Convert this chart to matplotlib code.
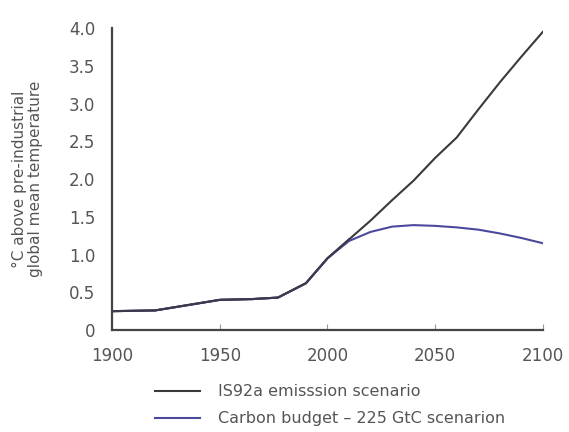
import matplotlib
matplotlib.use("Agg")
import matplotlib.pyplot as plt

# ── Data ───────────────────────────────────────────────────────────────────────
years_is92a = [1900, 1920, 1935, 1950, 1965, 1977, 1990, 2000, 2010, 2020,
               2030, 2040, 2050, 2060, 2070, 2080, 2090, 2100]
temp_is92a  = [0.25, 0.26, 0.33, 0.40, 0.41, 0.43, 0.62, 0.95, 1.20, 1.45,
               1.72, 1.98, 2.28, 2.55, 2.92, 3.28, 3.62, 3.95]

years_budget = [1900, 1920, 1935, 1950, 1965, 1977, 1990, 2000, 2010, 2020,
                2030, 2040, 2050, 2060, 2070, 2080, 2090, 2100]
temp_budget  = [0.25, 0.26, 0.33, 0.40, 0.41, 0.43, 0.62, 0.95, 1.18, 1.30,
                1.37, 1.39, 1.38, 1.36, 1.33, 1.28, 1.22, 1.15]

x_ticks = [1900, 1950, 2000, 2050, 2100]
y_ticks = [0, 0.5, 1.0, 1.5, 2.0, 2.5, 3.0, 3.5, 4.0]
y_tick_labels = ["0", "0.5", "1.0", "1.5", "2.0", "2.5", "3.0", "3.5", "4.0"]

label_is92a = "IS92a emisssion scenario"
label_budget = "Carbon budget \u2013 225 GtC scenarion"

# ── Figure ─────────────────────────────────────────────────────────────────────
plt.rcParams.update({"font.family": "DejaVu Sans"})
fig = plt.figure(figsize=(5.69, 4.32), dpi=100)
ax = fig.add_axes([0.197, 0.236, 0.757, 0.699])

l1, = ax.plot(years_is92a, temp_is92a, color="#3a3a3a", lw=1.5,
              label=label_is92a)
l2, = ax.plot(years_budget, temp_budget, color="#4a4a9c", lw=1.5,
              label=label_budget)
ax.plot(years_is92a[:9], temp_is92a[:9], color="#3a3a4a", lw=1.5)

ax.set_xlim(1900, 2100)
ax.set_ylim(0, 4.0)
ax.set_xticks(x_ticks)
ax.set_yticks(y_ticks)
ax.set_yticklabels(y_tick_labels)
ax.tick_params(axis="x", direction="in", length=4, width=0.8, color="#999999",
               labelsize=12, labelcolor="#555555", pad=12)
ax.tick_params(axis="y", length=0, labelsize=12, labelcolor="#555555", pad=12)

for s in ["top", "right"]:
    ax.spines[s].set_visible(False)
for s in ["left", "bottom"]:
    ax.spines[s].set_color("#444444")
    ax.spines[s].set_linewidth(1.6)

fig.text(0.048, 0.585, "\u00b0C above pre-industrial\nglobal mean temperature",
         rotation=90, ha="center", va="center", fontsize=11,
         color="#555555", linespacing=1.1)

fig.legend(handles=[l1, l2], loc="upper left", bbox_to_anchor=(0.262, 0.125),
           frameon=False, fontsize=11.5, handlelength=2.8, handletextpad=1.1,
           labelspacing=0.75, labelcolor="#555555", borderaxespad=0)

fig.savefig("out.png", dpi=100)
